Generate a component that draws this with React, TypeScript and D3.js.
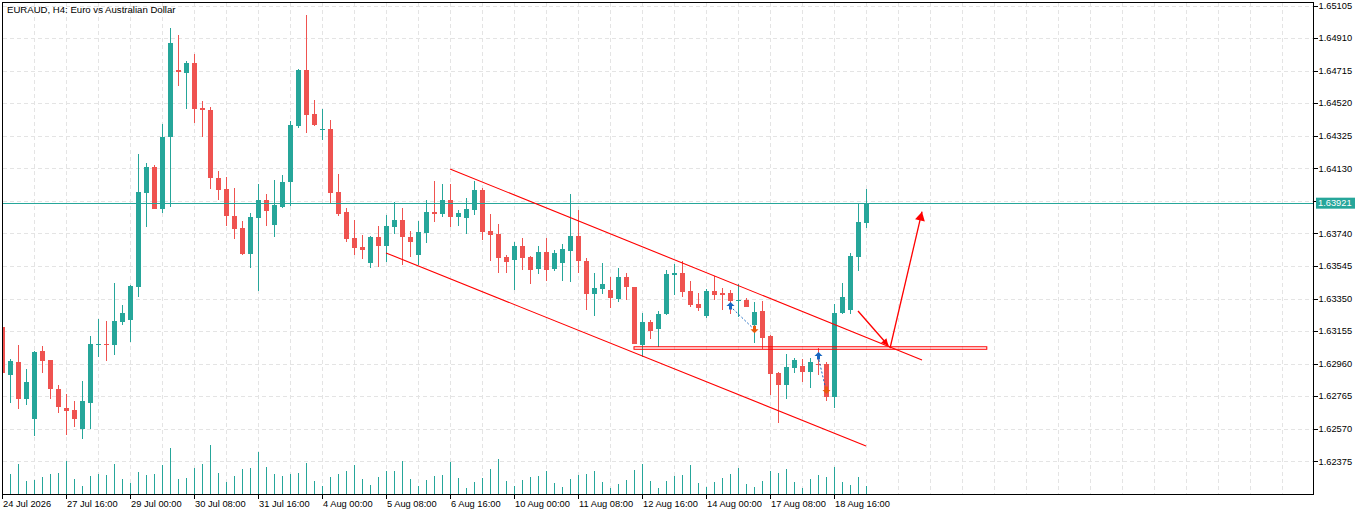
import * as d3 from "d3";

// EURAUD H4 candles, left to right (first one is clipped by the frame)
const opens = [
  1.63181, 1.62894, 1.6297, 1.62747, 1.62627, 1.63036, 1.62982, 1.6281, 1.62694, 1.62683,
  1.62571, 1.62726, 1.63076, 1.6308, 1.63074, 1.63211, 1.63223, 1.63421, 1.63984, 1.64138,
  1.63888, 1.64319, 1.64717, 1.64703, 1.64761, 1.64491, 1.64479, 1.64072, 1.64006, 1.63844,
  1.63772, 1.63619, 1.63834, 1.6394, 1.63792, 1.639, 1.64048, 1.64385, 1.64719, 1.64455,
  1.64364, 1.64365, 1.63988, 1.63868, 1.63713, 1.63659, 1.63563, 1.63719, 1.63666, 1.6378,
  1.6382, 1.63719, 1.63613, 1.63744, 1.63868, 1.63858, 1.6394, 1.6384, 1.63834, 1.63882,
  1.64, 1.63755, 1.63737, 1.63599, 1.63583, 1.63665, 1.63599, 1.63527, 1.63629, 1.63529,
  1.63563, 1.63637, 1.63725, 1.63575, 1.63379, 1.63409, 1.63401, 1.63349, 1.63479, 1.63419,
  1.63074, 1.6321, 1.63169, 1.63257, 1.63493, 1.63503, 1.63395, 1.63317, 1.63247, 1.63395,
  1.63383, 1.63383, 1.63339, 1.63341, 1.63192, 1.63275, 1.63126, 1.62904, 1.62832, 1.62934,
  1.62946, 1.6291, 1.62958, 1.62958, 1.6276, 1.63263, 1.63281, 1.63601, 1.63804,
];
const highs = [
  1.63192, 1.6299, 1.63074, 1.6293, 1.63036, 1.63066, 1.62982, 1.62834, 1.62778, 1.62738,
  1.62858, 1.63126, 1.63226, 1.63214, 1.63441, 1.63311, 1.63431, 1.64216, 1.6416, 1.64148,
  1.64395, 1.6497, 1.64928, 1.64773, 1.64816, 1.64533, 1.64497, 1.64114, 1.64078, 1.64012,
  1.63814, 1.63862, 1.64036, 1.63976, 1.6406, 1.6409, 1.64413, 1.64725, 1.65048, 1.64539,
  1.64485, 1.64419, 1.64096, 1.63892, 1.6382, 1.63731, 1.63725, 1.63784, 1.6385, 1.63928,
  1.63892, 1.63755, 1.63814, 1.6394, 1.64054, 1.64036, 1.64036, 1.6388, 1.63952, 1.64054,
  1.6401, 1.63856, 1.63796, 1.63611, 1.63689, 1.63713, 1.63607, 1.63665, 1.63713, 1.63641,
  1.63677, 1.63976, 1.6388, 1.63593, 1.63503, 1.63563, 1.63479, 1.63533, 1.63503, 1.63419,
  1.63265, 1.63222, 1.63275, 1.63521, 1.63557, 1.63575, 1.63455, 1.63383, 1.63407, 1.63485,
  1.63413, 1.63401, 1.63437, 1.63353, 1.63329, 1.63335, 1.63132, 1.6291, 1.63018, 1.62994,
  1.62988, 1.62994, 1.63054, 1.6297, 1.63317, 1.63443, 1.63623, 1.6392, 1.64006,
];
const lows = [
  1.62892, 1.62726, 1.6269, 1.62711, 1.62529, 1.62906, 1.62747, 1.62663, 1.62531, 1.62582,
  1.62511, 1.62567, 1.63002, 1.62978, 1.63014, 1.6319, 1.63092, 1.63361, 1.63777, 1.63884,
  1.63864, 1.63896, 1.64623, 1.64485, 1.64401, 1.64317, 1.64006, 1.6394, 1.63786, 1.63707,
  1.63611, 1.63535, 1.63397, 1.63786, 1.63719, 1.63894, 1.63906, 1.64373, 1.64343, 1.64385,
  1.643, 1.6392, 1.63846, 1.6369, 1.63611, 1.63587, 1.63535, 1.63541, 1.63571, 1.63738,
  1.63551, 1.63599, 1.63551, 1.63683, 1.6381, 1.63838, 1.63778, 1.63786, 1.63738, 1.6385,
  1.63701, 1.63575, 1.63505, 1.63503, 1.63401, 1.63523, 1.63439, 1.63495, 1.63457, 1.63517,
  1.63457, 1.63451, 1.63505, 1.63281, 1.63247, 1.63379, 1.63295, 1.63329, 1.63343, 1.63078,
  1.63002, 1.6311, 1.6306, 1.63251, 1.63371, 1.63361, 1.63301, 1.63277, 1.63235, 1.63341,
  1.63281, 1.63257, 1.63239, 1.63299, 1.63084, 1.63048, 1.62772, 1.62605, 1.62748, 1.62904,
  1.6285, 1.62814, 1.62892, 1.62736, 1.62694, 1.63257, 1.63257, 1.63517, 1.63772,
];
const closes = [
  1.62902, 1.62978, 1.6275, 1.6285, 1.63032, 1.62978, 1.6281, 1.62699, 1.62678, 1.62627,
  1.62736, 1.63078, 1.6308, 1.63076, 1.63214, 1.63262, 1.63425, 1.63988, 1.64138, 1.63888,
  1.64317, 1.6488, 1.64709, 1.64762, 1.64487, 1.64481, 1.64074, 1.64002, 1.63846, 1.63768,
  1.63617, 1.63838, 1.6394, 1.63876, 1.6391, 1.64048, 1.64389, 1.64719, 1.64451, 1.64389,
  1.64367, 1.63984, 1.63858, 1.63708, 1.63655, 1.63643, 1.6372, 1.63666, 1.63784, 1.6382,
  1.6372, 1.6369, 1.63748, 1.63868, 1.63862, 1.6394, 1.6384, 1.63862, 1.63886, 1.64,
  1.6375, 1.63732, 1.63595, 1.63569, 1.63665, 1.63595, 1.63523, 1.63629, 1.63523, 1.63623,
  1.63647, 1.63725, 1.63577, 1.63379, 1.63413, 1.63437, 1.63355, 1.63479, 1.63421, 1.6308,
  1.6321, 1.63157, 1.63257, 1.63497, 1.63501, 1.63391, 1.63313, 1.63295, 1.63395, 1.63373,
  1.63375, 1.63335, 1.63343, 1.63299, 1.63269, 1.63114, 1.62898, 1.62832, 1.6294, 1.62982,
  1.6291, 1.6297, 1.62952, 1.6276, 1.63263, 1.63359, 1.63605, 1.63808, 1.63921,
];
const volumes = [
  25, 20, 30, 13, 14, 17, 20, 21, 33, 15, 8, 18, 20, 19, 30, 15, 11, 22, 19, 20,
  29, 46, 15, 16, 26, 30, 49, 21, 12, 18, 25, 26, 42, 27, 20, 18, 20, 21, 31, 13,
  8, 17, 20, 23, 29, 15, 9, 17, 23, 23, 33, 15, 8, 14, 18, 19, 32, 16, 6, 12,
  16, 25, 35, 13, 8, 14, 17, 18, 23, 11, 7, 15, 19, 20, 23, 12, 6, 10, 14, 24,
  30, 13, 6, 13, 18, 19, 29, 11, 7, 12, 16, 20, 26, 10, 7, 13, 23, 21, 25, 12,
  6, 15, 19, 17, 27, 12, 9, 17, 8,
];

const priceTicks = [
  1.62375, 1.6257, 1.62765, 1.6296, 1.63155, 1.6335, 1.63545, 1.6374, 1.63935,
  1.6413, 1.64325, 1.6452, 1.64715, 1.6491, 1.65105,
];
const timeTickBars = [0, 8, 16, 24, 32, 40, 48, 56, 64, 72, 80, 88, 96, 104];
const timeTickLabels = [
  "24 Jul 2026", "27 Jul 16:00", "29 Jul 00:00", "30 Jul 08:00", "31 Jul 16:00",
  "4 Aug 00:00", "5 Aug 08:00", "6 Aug 16:00", "10 Aug 00:00", "11 Aug 08:00",
  "12 Aug 16:00", "14 Aug 00:00", "17 Aug 08:00", "18 Aug 16:00",
];

const lastPrice = 1.63921;

// drawn objects: [bar, price] anchors
const channelUpper: [number, number][] = [[56, 1.64126], [115, 1.62982]];
const channelLower: [number, number][] = [[48, 1.63623], [108, 1.62467]];
const zoneBars = [79, 123.1];
const zonePrices = [1.63061, 1.63046];
const arrowDown: [number, number][] = [[107, 1.63275], [110.8, 1.63067]];
const arrowUp: [number, number][] = [[111, 1.63052], [115, 1.6387]];
const trades = [
  { inBar: 91, inPrice: 1.63305, outBar: 94, outPrice: 1.63166 },
  { inBar: 102, inPrice: 1.63006, outBar: 103, outPrice: 1.62802 },
];

const W = 1366;
const H = 515;
const left = 2.5;
const right = 1313.5;
const top = 2.5;
const bottom = 494.5;

const BULL = "#26a69a";
const BEAR = "#ef5350";
const FONT = "'Liberation Sans', Arial, sans-serif";

const x = d3.scaleLinear().domain([0, 163.875]).range([2, 1313]);
const y = d3.scaleLinear().domain([1.62375, 1.65105]).range([461.3, 5.5]);
const vy = d3.scaleLinear().domain([0, d3.max(volumes) || 1]).range([494, 445]);

const arrowHead = (p: [number, number][], len: number, half: number) => {
  const [x0, y0] = [x(p[0][0]), y(p[0][1])];
  const [x1, y1] = [x(p[1][0]), y(p[1][1])];
  const a = Math.atan2(y1 - y0, x1 - x0);
  const bx = x1 - len * Math.cos(a);
  const by = y1 - len * Math.sin(a);
  const nx = -Math.sin(a) * half;
  const ny = Math.cos(a) * half;
  return `M${x1},${y1}L${bx + nx},${by + ny}L${bx - nx},${by - ny}Z`;
};

const lineOf = (p: [number, number][]) =>
  d3.line<[number, number]>().x((d) => x(d[0])).y((d) => y(d[1]))(p) || "";

export default function App() {
  const vGrid = d3.range(4, 164, 4);
  return (
    <svg
      width={W}
      height={H}
      style={{ position: "absolute", left: 0, top: 0, background: "#fff" }}
      fontFamily={FONT}
    >
      <defs>
        <clipPath id="plot">
          <rect x={left} y={top} width={right - left} height={bottom - top} />
        </clipPath>
      </defs>
      <rect width={W} height={H} fill="#fff" />

      {/* grid */}
      <g stroke="#e4e4e4" strokeDasharray="4,3" shapeRendering="crispEdges">
        {priceTicks.map((p) => (
          <line key={p} x1={left} x2={right} y1={Math.round(y(p)) + 0.5} y2={Math.round(y(p)) + 0.5} />
        ))}
        {vGrid.map((i) => (
          <line key={i} x1={x(i) + 0.5} x2={x(i) + 0.5} y1={top} y2={bottom} />
        ))}
      </g>

      <g clipPath="url(#plot)">
        {/* volumes */}
        <g fill={BULL} shapeRendering="crispEdges">
          {volumes.map((v, i) => (
            <rect key={i} x={Math.round(x(i))} y={vy(v)} width={1} height={494 - vy(v)} />
          ))}
        </g>

        {/* candles */}
        <g shapeRendering="crispEdges">
          {opens.map((o, i) => {
            const c = closes[i];
            const col = c >= o ? BULL : BEAR;
            const cx = Math.round(x(i));
            const yt = y(Math.max(o, c));
            const yb = y(Math.min(o, c));
            return (
              <g key={i} fill={col}>
                <rect x={cx} y={y(highs[i])} width={1} height={y(lows[i]) - y(highs[i])} />
                <rect x={cx - 2} y={yt} width={5} height={Math.max(1.5, yb - yt)} />
              </g>
            );
          })}
        </g>

        {/* last price line */}
        <line
          x1={left}
          x2={right}
          y1={Math.round(y(lastPrice)) + 0.5}
          y2={Math.round(y(lastPrice)) + 0.5}
          stroke={BULL}
          shapeRendering="crispEdges"
        />

        {/* channel */}
        <g stroke="#ff0000" strokeWidth={1.1} fill="none">
          <path d={lineOf(channelUpper)} />
          <path d={lineOf(channelLower)} />
        </g>

        {/* zone */}
        <rect
          x={x(zoneBars[0])}
          y={y(zonePrices[0])}
          width={x(zoneBars[1]) - x(zoneBars[0])}
          height={y(zonePrices[1]) - y(zonePrices[0])}
          fill="none"
          stroke="#ff0000"
          strokeWidth={1}
        />

        {/* arrows */}
        <g stroke="#ff0000" strokeWidth={1.3} fill="none">
          <path d={lineOf(arrowDown)} />
          <path d={lineOf(arrowUp)} />
        </g>
        <g fill="#ff0000">
          <path d={arrowHead(arrowDown, 7, 3.5)} />
          <path d={arrowHead(arrowUp, 9, 5)} />
        </g>

        {/* trade history */}
        {trades.map((t, k) => {
          const x0 = x(t.inBar);
          const y0 = y(t.inPrice);
          const x1 = x(t.outBar);
          const y1 = y(t.outPrice);
          return (
            <g key={k}>
              <line x1={x0} y1={y0} x2={x1} y2={y1} stroke="#1565c0" strokeDasharray="2,2" />
              <path
                transform={`translate(${x0 + 0.5},${y0})`}
                d="M0,-4L4,0L1.5,0L1.5,3.5L-1.5,3.5L-1.5,0L-4,0Z"
                fill="#1565c0"
              />
              <path
                transform={`translate(${x1 + 0.5},${y1})`}
                d="M0,4L4,0L1.5,0L1.5,-3.5L-1.5,-3.5L-1.5,0L-4,0Z"
                fill="#e8590c"
              />
            </g>
          );
        })}
      </g>

      {/* frame */}
      <rect
        x={left}
        y={top}
        width={right - left}
        height={bottom - top}
        fill="none"
        stroke="#000"
        shapeRendering="crispEdges"
      />

      {/* price axis */}
      <g fontSize={9.3} fill="#000">
        {priceTicks.map((p) => (
          <g key={p}>
            <line
              x1={right}
              x2={right + 4}
              y1={Math.round(y(p)) + 0.5}
              y2={Math.round(y(p)) + 0.5}
              stroke="#000"
              shapeRendering="crispEdges"
            />
            <text x={right + 5} y={y(p)} dy="0.35em">
              {p.toFixed(5)}
            </text>
          </g>
        ))}
      </g>
      <rect x={1316} y={y(lastPrice) - 5.5} width={39} height={11} fill={BULL} />
      <text x={1318} y={y(lastPrice)} dy="0.35em" fontSize={9.3} fill="#fff">
        {lastPrice.toFixed(5)}
      </text>

      {/* time axis */}
      <g fontSize={9.3} fill="#000">
        {timeTickBars.map((b, k) => (
          <g key={b}>
            <line
              x1={x(b) + 0.5}
              x2={x(b) + 0.5}
              y1={bottom}
              y2={bottom + 4}
              stroke="#000"
              shapeRendering="crispEdges"
            />
            <text x={x(b) + 1} y={506.5}>
              {timeTickLabels[k]}
            </text>
          </g>
        ))}
      </g>

      <text x={7} y={13} fontSize={9.6} fill="#000">
        EURAUD, H4:  Euro vs Australian Dollar
      </text>
    </svg>
  );
}
